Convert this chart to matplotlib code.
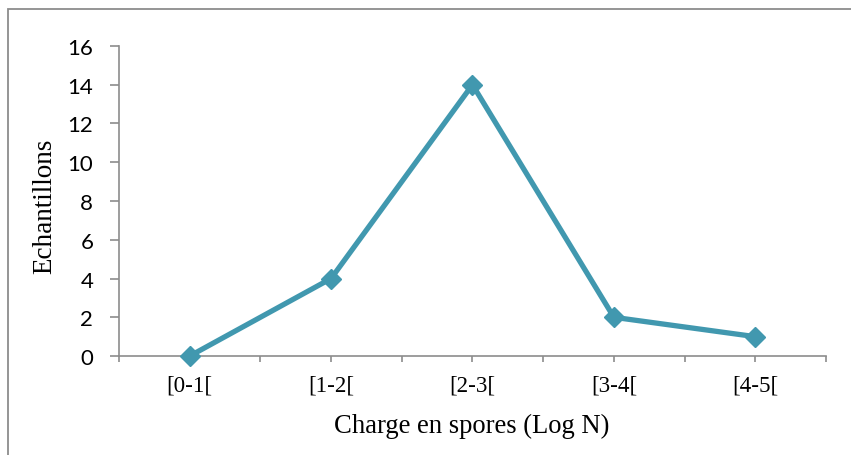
import matplotlib.pyplot as plt
from matplotlib.patches import Rectangle

# Nombre d'echantillons par classe de charge en spores
classes = ['[0-1[', '[1-2[', '[2-3[', '[3-4[', '[4-5[']
echantillons = [0, 4, 14, 2, 1]

couleur = '#4198af'
gris = '#8c8c8c'

fig = plt.figure(figsize=(8.51, 4.56), dpi=100)
ax = fig.add_axes([0.1398, 0.217, 0.8308, 0.68])

x = list(range(len(classes)))
ax.plot(x, echantillons, color=couleur, lw=3.8, marker='D', ms=10, zorder=3, clip_on=False)

ax.set_xlim(-0.5, len(classes) - 0.5)
ax.set_ylim(0, 16)
ax.set_yticks(range(0, 17, 2))
ax.set_yticklabels([str(v) for v in range(0, 17, 2)], fontfamily='Lato', fontsize=16)

# graduations aux centres et aux limites des classes
ax.set_xticks([i * 0.5 - 0.5 for i in range(2 * len(classes) + 1)])
ax.set_xticklabels([''] * (2 * len(classes) + 1))
for i, c in enumerate(classes):
    ax.text(i, -1.5, c, ha='center', va='center', fontfamily='Liberation Serif', fontsize=16.6)

ax.tick_params(axis='y', color=gris, length=6.5, width=1.2, pad=12)
ax.tick_params(axis='x', color=gris, length=4.3, width=1.2)
for s in ['top', 'right']:
    ax.spines[s].set_visible(False)
for s in ['left', 'bottom']:
    ax.spines[s].set_color(gris)
    ax.spines[s].set_linewidth(1.2)

fig.text(45 / 851, 1 - 206 / 456, 'Echantillons', ha='center', va='center', rotation=90,
         fontfamily='Liberation Serif', fontsize=19.5)
fig.text(472 / 851, 1 - 426 / 456, 'Charge en spores (Log N)', ha='center', va='center',
         fontfamily='Liberation Serif', fontsize=19.2)

# cadre exterieur
fig.patches.append(Rectangle((8 / 851, -0.5), 2, 0.5 + 1 - 10 / 456, transform=fig.transFigure,
                             fill=False, edgecolor=gris, lw=1.3))

fig.savefig('out.png', dpi=100)
